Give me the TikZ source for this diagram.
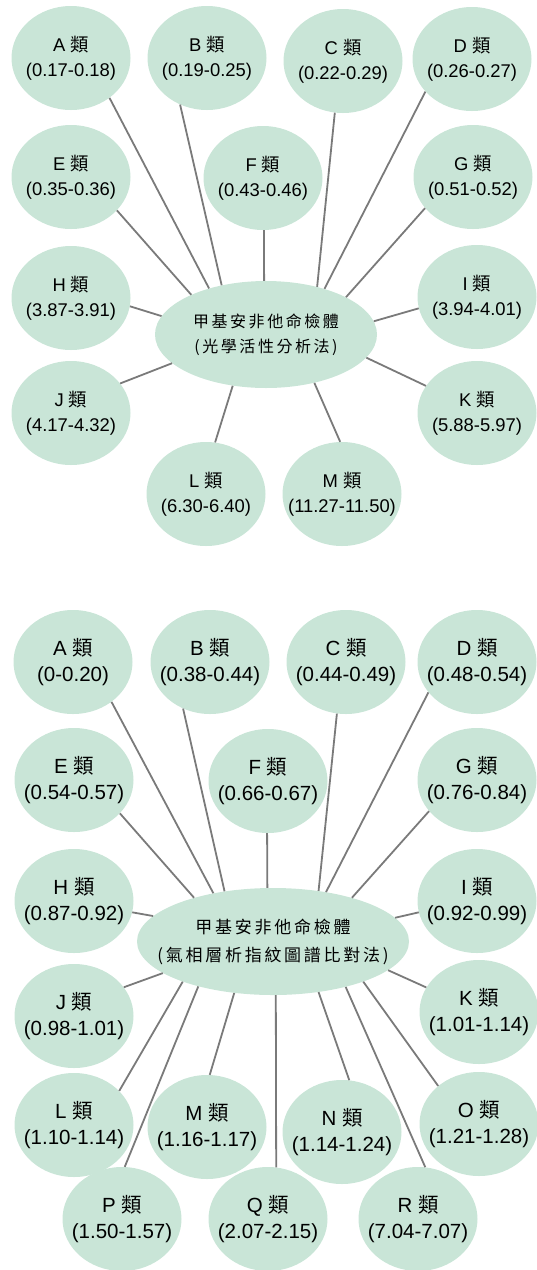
\documentclass[tikz,border=0pt]{standalone}
\usepackage{fontspec}
\usepackage{tikz}
\usetikzlibrary{shapes.geometric}
\setmainfont{Liberation Sans}
\newfontfamily\cjk{Noto Sans CJK TC}
\newfontfamily\cjkwide[LetterSpace=16]{Noto Sans CJK TC}
\definecolor{mint}{RGB}{201,229,215}
\definecolor{spokegray}{RGB}{122,122,122}
\newcommand{\cls}[2]{#1 {\cjk 類}\\(#2)}

\begin{document}
\begin{tikzpicture}[x=1pt, y=-1pt,
    clsbase/.style={ellipse, fill=mint, minimum width=119pt, minimum height=104pt, inner xsep=-30pt, inner ysep=0pt, align=center},
    optcls/.style={clsbase, font=\fontsize{18.4}{25}\selectfont},
    gccls/.style={clsbase, font=\fontsize{20.5}{26}\selectfont},
    hub/.style={ellipse, fill=mint, minimum height=107pt, inner xsep=-60pt, inner ysep=0pt, align=center},
    spoke/.style={draw=spokegray, line width=1.8pt}]
    \useasboundingbox (0,0) rectangle (537,1270);

    % optical activity analysis
    \node[hub, minimum width=222pt, font=\cjkwide\fontsize{16}{25}\selectfont] (opt) at (266,334.5) {甲基安非他命檢體\\(光學活性分析法)};
    \node[optcls] (optA) at (71,58) {\cls{A}{0.17-0.18}};
    \node[optcls] (optB) at (207,58) {\cls{B}{0.19-0.25}};
    \node[optcls] (optC) at (343,61) {\cls{C}{0.22-0.29}};
    \node[optcls] (optD) at (472,59) {\cls{D}{0.26-0.27}};
    \node[optcls] (optE) at (71,177) {\cls{E}{0.35-0.36}};
    \node[optcls] (optF) at (263,178) {\cls{F}{0.43-0.46}};
    \node[optcls] (optG) at (473,177) {\cls{G}{0.51-0.52}};
    \node[optcls] (optH) at (71,298) {\cls{H}{3.87-3.91}};
    \node[optcls] (optI) at (477,297) {\cls{I}{3.94-4.01}};
    \node[optcls] (optJ) at (71,413) {\cls{J}{4.17-4.32}};
    \node[optcls] (optK) at (477,413) {\cls{K}{5.88-5.97}};
    \node[optcls] (optL) at (206,494) {\cls{L}{6.30-6.40}};
    \node[optcls] (optM) at (342,494) {\cls{M}{11.27-11.50}};

    \draw[spoke] (optA.-46) -- (opt.141);
    \draw[spoke] (optB.-120) -- (opt.132);
    \draw[spoke] (optC.-99) -- (opt.43);
    \draw[spoke] (optD.-145) -- (opt.38);
    \draw[spoke] (optE.-36) -- (opt.152);
    \draw[spoke] (optF.-89) -- (opt.92);
    \draw[spoke] (optG.-147) -- (opt.25);
    \draw[spoke] (optH.-8) -- (opt.170);
    \draw[spoke] (optI.-169) -- (opt.7);
    \draw[spoke] (optJ.31) -- (opt.-163);
    \draw[spoke] (optK.152) -- (opt.-13);
    \draw[spoke] (optL.80) -- (opt.-123);
    \draw[spoke] (optM.92) -- (opt.-45);

    % GC fingerprint comparison
    \node[hub, minimum width=272pt, font=\cjkwide\fontsize{17}{28}\selectfont] (gc) at (273,941.5) {甲基安非他命檢體\\(氣相層析指紋圖譜比對法)};
    \node[gccls] (gcA) at (73,662) {\cls{A}{0-0.20}};
    \node[gccls] (gcB) at (210,662) {\cls{B}{0.38-0.44}};
    \node[gccls] (gcC) at (346,662) {\cls{C}{0.44-0.49}};
    \node[gccls] (gcD) at (477,662) {\cls{D}{0.48-0.54}};
    \node[gccls] (gcE) at (74,780) {\cls{E}{0.54-0.57}};
    \node[gccls] (gcF) at (268,781) {\cls{F}{0.66-0.67}};
    \node[gccls] (gcG) at (477,780) {\cls{G}{0.76-0.84}};
    \node[gccls] (gcH) at (74,901) {\cls{H}{0.87-0.92}};
    \node[gccls] (gcI) at (477,901) {\cls{I}{0.92-0.99}};
    \node[gccls] (gcJ) at (74,1016) {\cls{J}{0.98-1.01}};
    \node[gccls] (gcK) at (479,1012) {\cls{K}{1.01-1.14}};
    \node[gccls] (gcL) at (74,1125) {\cls{L}{1.10-1.14}};
    \node[gccls] (gcM) at (207,1127) {\cls{M}{1.16-1.17}};
    \node[gccls] (gcN) at (342,1132) {\cls{N}{1.14-1.24}};
    \node[gccls] (gcO) at (479,1124) {\cls{O}{1.21-1.28}};
    \node[gccls] (gcP) at (122,1219) {\cls{P}{1.50-1.57}};
    \node[gccls] (gcQ) at (268,1219) {\cls{Q}{2.07-2.15}};
    \node[gccls] (gcR) at (418,1219) {\cls{R}{7.04-7.07}};

    \draw[spoke] (gcA.-46) -- (gc.141);
    \draw[spoke] (gcB.-120) -- (gc.134);
    \draw[spoke] (gcC.-100) -- (gc.48);
    \draw[spoke] (gcD.-148) -- (gc.43);
    \draw[spoke] (gcE.-36) -- (gc.151);
    \draw[spoke] (gcF.-91) -- (gc.96);
    \draw[spoke] (gcG.-147) -- (gc.29);
    \draw[spoke] (gcH.-11) -- (gc.168);
    \draw[spoke] (gcI.-169) -- (gc.11);
    \draw[spoke] (gcJ.30) -- (gc.-164);
    \draw[spoke] (gcK.155) -- (gc.-14);
    \draw[spoke] (gcL.37) -- (gc.-156);
    \draw[spoke] (gcM.87) -- (gc.-127);
    \draw[spoke] (gcN.82) -- (gc.-48);
    \draw[spoke] (gcO.137) -- (gc.-24);
    \draw[spoke] (gcP.87) -- (gc.-149);
    \draw[spoke] (gcQ.81) -- (gc.-87);
    \draw[spoke] (gcR.82) -- (gc.-32);
\end{tikzpicture}
\end{document}
